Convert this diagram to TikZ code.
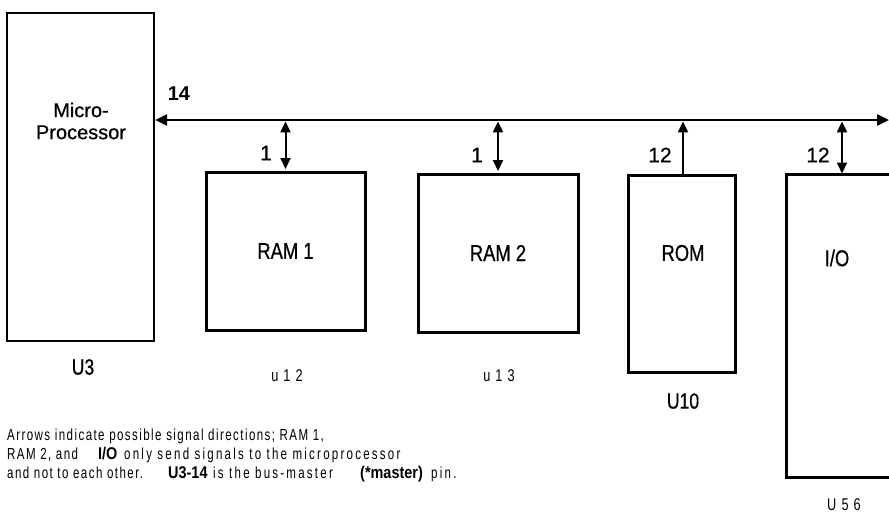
\documentclass[tikz,border=0pt]{standalone}
\usepackage{fontspec}
\setmainfont{Liberation Sans}
\newfontfamily\capf{Liberation Sans}[FakeStretch=0.72, LetterSpace=9]
\newfontfamily\capwf{Liberation Sans}[FakeStretch=0.72, LetterSpace=14]
\newfontfamily\spcf{Liberation Sans}[FakeStretch=0.75, LetterSpace=30]
\newfontfamily\labf{Liberation Sans}[FakeStretch=0.8, FakeBold=0.6]
\newfontfamily\numf{Liberation Sans}[FakeBold=0.6]
\newfontfamily\boldlab{Liberation Sans}[FakeStretch=0.85]
\usetikzlibrary{arrows.meta}
\begin{document}
\begin{tikzpicture}[x=1pt,y=-1pt,
  box/.style={draw, line width=3pt, inner sep=0pt},
  bus/.style={line width=2.8pt, {Triangle[length=12pt,width=11pt]}-{Triangle[length=12pt,width=11pt]}},
  dbl/.style={line width=2pt, {Triangle[length=11pt,width=10pt]}-{Triangle[length=11pt,width=10pt]}},
  upar/.style={line width=2pt, -{Triangle[length=11pt,width=10pt]}},
  blab/.style={font=\labf\fontsize{23}{24}\selectfont, inner sep=0pt},
  num/.style={font=\numf\fontsize{21}{22}\selectfont, inner sep=0pt},
  ulab/.style={font=\labf\fontsize{22}{22}\selectfont, inner sep=0pt},
  slab/.style={font=\spcf\fontsize{17}{18}\selectfont, inner sep=0pt},
  captxt/.style={font=\capf\fontsize{16}{18}\selectfont, inner sep=0pt, anchor=base west},
  capwide/.style={font=\capwf\fontsize{16}{18}\selectfont, inner sep=0pt, anchor=base west},
  capbold/.style={font=\boldlab\bfseries\fontsize{17}{18}\selectfont, inner sep=0pt, anchor=base west}
]
\useasboundingbox (0,0) rectangle (889,515);

% boxes
\node[box, line width=2.4pt, minimum width=147pt, minimum height=328pt] (cpu) at (80.5,177) {};
\node[box, minimum width=159pt, minimum height=158pt] (ram1) at (285.5,251) {};
\node[box, minimum width=160pt, minimum height=158pt] (ram2) at (498,253) {};
\node[box, minimum width=107pt, minimum height=197pt] (rom) at (681.5,273.5) {};
\node[inner sep=0pt, minimum width=104pt, minimum height=302pt] (io) at (839,326) {};
\draw[line width=3pt] (io.north east) -- (io.north west) -- (io.south west) -- (io.south east);

% box texts
\node[font=\numf\fontsize{20}{22}\selectfont, align=center, inner sep=0pt] (cputxt) at (81,121) {Micro-\\Processor};
\node[blab] (ram1txt) at (ram1.center) {RAM 1};
\node[blab] (ram2txt) at (ram2.center) {RAM 2};
\node[blab] (romtxt) at (683,253) {ROM};
\node[blab] (iotxt) at (837,258) {I/O};

% bus
\coordinate (busR) at (889,120);
\draw[bus] (cpu.east |- busR) -- (busR);

% taps
\coordinate (ioTap) at (842,175);
\coordinate (romTap) at (683,175);
\draw[dbl, shorten <=1.4pt, shorten >=1.5pt] (ram1.north |- busR) -- (ram1.north);
\draw[dbl, shorten <=1.4pt, shorten >=1.5pt] (ram2.north |- busR) -- (ram2.north);
\draw[upar, shorten >=1.4pt] (romTap) -- (romTap |- busR);
\draw[dbl, shorten <=1.4pt, shorten >=1.5pt] (ioTap |- busR) -- (ioTap);

% numbers
\node[num, font=\bfseries\fontsize{20}{22}\selectfont] (n14) at (179,94) {14};
\node[num] (n1a) at (266,153) {1};
\node[num] (n1b) at (477,155) {1};
\node[num] (n12a) at (660,155) {12};
\node[num] (n12b) at (818,155) {12};

% part labels
\node[ulab] (u3) at (83,367) {U3};
\node[slab] (u12) at (287,376) {u12};
\node[slab] (u13) at (499,376) {u13};
\node[ulab] (u10) at (683,401) {U10};
\node[slab] (u56) at (844,505) {U56};

% caption
\node[captxt] (c1) at (7,440) {Arrows indicate possible signal directions; RAM 1,};
\node[captxt] (c2a) at (7,459) {RAM 2, and};
\node[capbold] (c2b) at (98,459) {I/O};
\node[capwide] (c2c) at (124,459) {only send signals to the microprocessor};
\node[captxt] (c3a) at (7,478) {and not to each other.};
\node[capbold] (c3b) at (168,478) {U3-14};
\node[capwide] (c3c) at (213,478) {is the bus-master};
\node[capbold] (c3d) at (360,478) {(*master)};
\node[capwide] (c3e) at (431,478) {pin.};
\end{tikzpicture}
\end{document}
